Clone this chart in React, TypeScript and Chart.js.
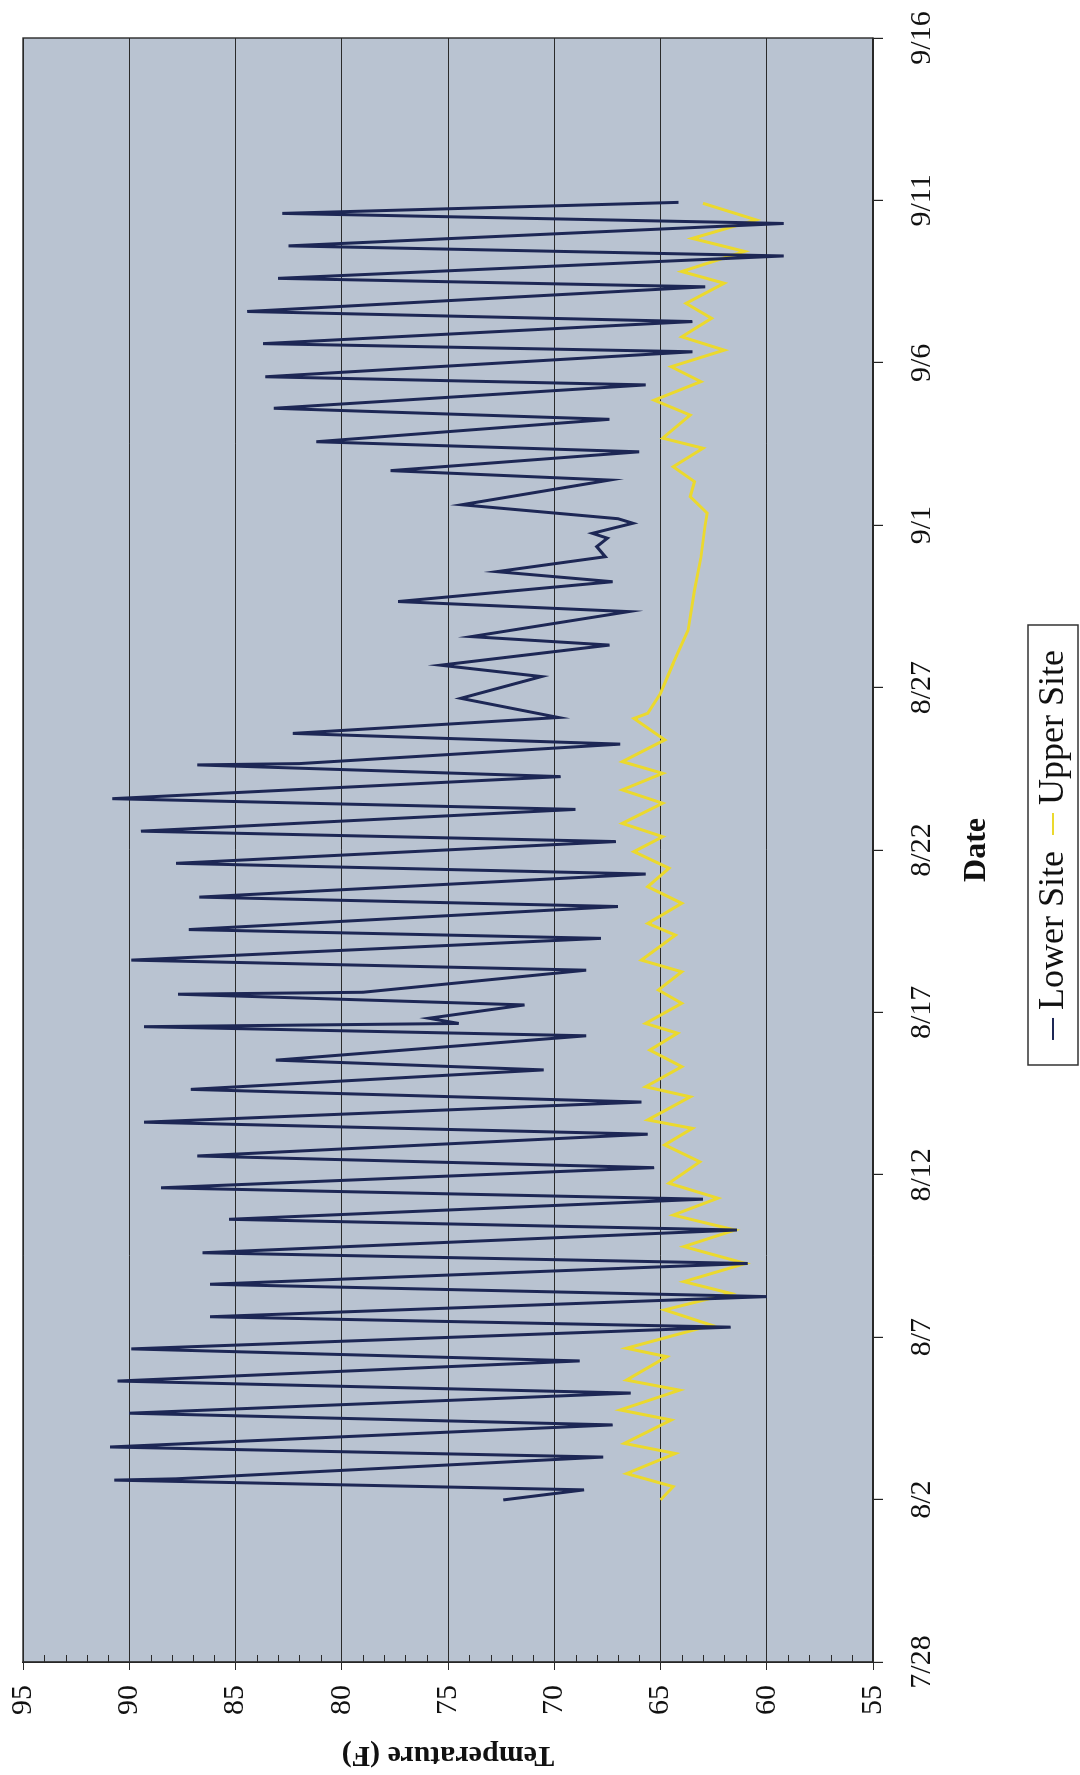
import React, { useEffect, useRef } from 'react';
import { Chart, registerables } from 'chart.js';

Chart.register(...registerables);

// Date axis: days after 7/28
const dateTickLabels = ['7/28', '8/2', '8/7', '8/12', '8/17', '8/22', '8/27', '9/1', '9/6', '9/11', '9/16'];
const dateStep = 5;
const tempMin = 55;
const tempMax = 95;
const tempStep = 5;

// Lower Site (days after 7/28, temperature F)
const lowerDays = [
  4.99, 5.30, 5.60, 5.64, 6.31, 6.62, 7.30, 7.66, 8.28, 8.65, 9.27, 9.64,
  10.31, 10.63, 11.25, 11.63, 12.27, 12.60, 13.30, 13.63, 14.25, 14.60, 15.22, 15.58,
  16.25, 16.62, 17.24, 17.63, 18.23, 18.53, 19.28, 19.56, 19.66, 19.82, 20.23, 20.56,
  20.62, 21.30, 21.61, 22.28, 22.55, 23.26, 23.55, 24.26, 24.59, 25.26, 25.58, 26.25,
  26.58, 27.26, 27.62, 27.66, 28.26, 28.59, 29.08, 29.67, 30.34, 30.69, 31.31, 31.57,
  32.34, 32.65, 33.26, 33.57, 34.03, 34.34, 34.60, 34.75, 35.06, 35.20, 35.63, 36.39,
  36.68, 37.26, 37.57, 38.26, 38.60, 39.32, 39.57, 40.34, 40.59, 41.27, 41.58, 42.34,
  42.60, 43.29, 43.60, 44.29, 44.60, 44.94,
];
const lowerTemps = [
  72.4, 68.6, 90.7, 87.8, 67.7, 90.9, 67.25, 90.0, 66.4, 90.55, 68.8, 89.9,
  61.7, 86.2, 60.0, 86.2, 60.9, 86.55, 61.4, 85.3, 63.0, 88.5, 65.3, 86.8,
  65.6, 89.3, 65.9, 87.1, 70.5, 83.1, 68.5, 89.3, 74.5, 75.9, 71.4, 87.7,
  79.0, 68.5, 89.9, 67.8, 87.2, 67.0, 86.7, 65.7, 87.8, 67.1, 89.45, 69.0,
  90.8, 69.7, 86.8, 82.0, 66.9, 82.3, 69.8, 74.4, 70.6, 75.35, 67.4, 73.9,
  66.5, 77.35, 67.25, 72.7, 67.6, 68.0, 67.5, 68.2, 66.3, 67.0, 74.35, 67.4,
  77.7, 66.0, 81.2, 67.4, 83.2, 65.7, 83.6, 63.5, 83.7, 63.5, 84.45, 62.9,
  83.0, 59.2, 82.5, 59.2, 82.8, 64.15,
];

// Upper Site (days after 7/28, temperature F)
const upperDays = [
  4.99, 5.40, 5.80, 6.42, 6.73, 7.45, 7.76, 8.37, 8.68, 9.40, 9.66, 10.37,
  10.84, 11.35, 11.71, 12.27, 12.79, 13.30, 13.76, 14.28, 14.74, 15.40, 15.92, 16.43,
  16.69, 17.40, 17.71, 18.33, 18.84, 19.36, 19.66, 20.28, 20.69, 21.25, 21.61, 22.38,
  22.74, 23.36, 23.87, 24.44, 24.95, 25.41, 25.82, 26.44, 26.85, 27.36, 27.72, 28.39,
  29.05, 29.21, 29.82, 30.75, 31.77, 33.0, 34.0, 35.0, 35.37, 35.88, 36.34, 36.80,
  37.37, 37.68, 38.39, 38.85, 39.42, 39.88, 40.39, 40.80, 41.37, 41.83, 42.45, 42.81,
  43.43, 43.83, 44.40, 44.91,
];
const upperTemps = [
  65.0, 64.4, 66.6, 64.3, 66.7, 64.5, 66.9, 64.1, 66.6, 64.7, 66.6, 62.6,
  64.8, 61.7, 63.9, 61.0, 63.9, 61.5, 64.4, 62.3, 64.6, 63.15, 64.8, 63.5,
  65.6, 63.6, 65.7, 64.0, 65.5, 64.2, 65.7, 64.0, 65.1, 64.0, 65.9, 64.3,
  65.6, 64.0, 65.6, 64.6, 66.25, 64.9, 66.8, 64.9, 66.8, 64.9, 66.8, 64.8,
  66.25, 65.6, 65.0, 64.4, 63.7, 63.4, 63.1, 62.9, 62.8, 63.6, 63.4, 64.4,
  63.0, 64.9, 63.6, 65.3, 63.1, 64.5, 62.0, 64.0, 62.6, 63.8, 62.0, 64.0,
  61.05, 63.5, 60.5, 63.0,
];

const FONT = '"Liberation Serif", "Times New Roman", serif';

const toPoints = (xs: number[], ys: number[]) => xs.map((x, i) => ({ x, y: ys[i] }));

const backgroundPlugin = {
  id: 'plotBackground',
  beforeDraw(chart: any) {
    const { ctx, chartArea } = chart;
    ctx.save();
    ctx.fillStyle = '#ffffff';
    ctx.fillRect(0, 0, chart.width, chart.height);
    ctx.fillStyle = '#b9c3d1';
    ctx.fillRect(chartArea.left, chartArea.top, chartArea.right - chartArea.left, chartArea.bottom - chartArea.top);
    ctx.restore();
  },
};

const framePlugin = {
  id: 'plotFrame',
  afterDatasetsDraw(chart: any) {
    const { ctx, chartArea } = chart;
    const yScale = chart.scales.y;
    ctx.save();
    ctx.strokeStyle = '#2a2a2a';
    ctx.lineWidth = 1.4;
    ctx.strokeRect(chartArea.left, chartArea.top, chartArea.right - chartArea.left, chartArea.bottom - chartArea.top);
    // minor ticks every 1 degree, inward
    ctx.lineWidth = 1.2;
    ctx.beginPath();
    for (let t = yScale.min + 1; t < yScale.max; t += 1) {
      if (t % tempStep === 0) continue;
      const py = Math.round(yScale.getPixelForValue(t)) + 0.5;
      ctx.moveTo(chartArea.left, py);
      ctx.lineTo(chartArea.left + 7, py);
    }
    ctx.stroke();
    ctx.restore();
  },
};

const legendPlugin = {
  id: 'boxedLegend',
  afterDraw(chart: any) {
    const { ctx, chartArea } = chart;
    const ds = chart.data.datasets;
    ctx.save();
    ctx.font = `36px ${FONT}`;
    const lineLen = 22;
    const gap = 8;
    const itemGap = 16;
    const widths = ds.map((d: any) => ctx.measureText(d.label).width);
    const inner = widths.reduce((a: number, w: number) => a + lineLen + gap + w, 0) + itemGap * (ds.length - 1);
    const boxW = Math.max(inner + 12, 440);
    const cx = (chartArea.left + chartArea.right) / 2 + 5;
    const top = chart.height - 52;
    const h = 50;
    const left = cx - boxW / 2;
    ctx.fillStyle = '#ffffff';
    ctx.fillRect(left, top, boxW, h);
    ctx.strokeStyle = '#333333';
    ctx.lineWidth = 1.5;
    ctx.strokeRect(left, top, boxW, h);
    let x = cx - inner / 2;
    const midY = top + h / 2;
    ds.forEach((d: any, i: number) => {
      ctx.strokeStyle = d.borderColor;
      ctx.lineWidth = 2;
      ctx.beginPath();
      ctx.moveTo(x, midY);
      ctx.lineTo(x + lineLen, midY);
      ctx.stroke();
      x += lineLen + gap;
      ctx.fillStyle = '#111111';
      ctx.textAlign = 'left';
      ctx.textBaseline = 'middle';
      ctx.fillText(d.label, x, midY + 1);
      x += widths[i] + itemGap;
    });
    ctx.restore();
  },
};

export default function App() {
  const canvasRef = useRef<HTMLCanvasElement | null>(null);

  useEffect(() => {
    document.body.style.margin = '0';
    const canvas = canvasRef.current;
    if (!canvas) return;
    const chart = new Chart(canvas, {
      type: 'line',
      data: {
        datasets: [
          {
            label: 'Lower Site',
            data: toPoints(lowerDays, lowerTemps),
            borderColor: '#1d2755',
            backgroundColor: '#1d2755',
            borderWidth: 3,
            pointRadius: 0,
            tension: 0,
          },
          {
            label: 'Upper Site',
            data: toPoints(upperDays, upperTemps),
            borderColor: '#ebd92e',
            backgroundColor: '#ebd92e',
            borderWidth: 3,
            pointRadius: 0,
            tension: 0,
          },
        ],
      },
      options: {
        responsive: false,
        animation: false,
        devicePixelRatio: 1,
        layout: { padding: { left: 0, right: 38, top: 23, bottom: 67 } },
        plugins: {
          legend: { display: false },
          tooltip: { enabled: false },
        },
        scales: {
          x: {
            type: 'linear',
            min: 0,
            max: (dateTickLabels.length - 1) * dateStep,
            afterFit(scale: any) {
              scale.height = 140;
              scale.paddingLeft = 0;
              scale.paddingRight = 0;
            },
            ticks: {
              stepSize: dateStep,
              autoSkip: false,
              maxRotation: 0,
              minRotation: 0,
              padding: 21,
              color: '#111',
              font: { family: FONT, size: 30 },
              callback: (v: any) => dateTickLabels[Math.round(Number(v) / dateStep)] ?? '',
            },
            grid: {
              display: true,
              drawOnChartArea: false,
              drawTicks: true,
              tickLength: 10,
              color: '#222',
              lineWidth: 1.2,
            },
            border: { display: true, color: '#222', width: 1.4 },
            title: {
              display: true,
              text: 'Date',
              color: '#111',
              font: { family: FONT, size: 32, weight: 'bold' },
              padding: { top: 0, bottom: 17 },
            },
          },
          y: {
            type: 'linear',
            min: tempMin,
            max: tempMax,
            afterFit(scale: any) {
              scale.width = 113;
              scale.paddingTop = 0;
              scale.paddingBottom = 0;
            },
            ticks: {
              stepSize: tempStep,
              padding: 15,
              color: '#111',
              font: { family: FONT, size: 30 },
            },
            grid: {
              display: true,
              drawOnChartArea: true,
              drawTicks: true,
              tickLength: 8,
              color: '#2a2a2a',
              lineWidth: 1,
            },
            border: { display: true, color: '#222', width: 1.4 },
            title: {
              display: true,
              text: 'Temperature (F)',
              color: '#111',
              font: { family: FONT, size: 30, weight: 'bold' },
              padding: { top: 2, bottom: 0 },
            },
          },
        },
      },
      plugins: [backgroundPlugin, framePlugin, legendPlugin],
    } as any);
    return () => chart.destroy();
  }, []);

  return (
    <div
      style={{
        position: 'absolute',
        left: 0,
        top: 0,
        width: 1080,
        height: 1775,
        overflow: 'hidden',
        background: '#ffffff',
      }}
    >
      <div
        style={{
          position: 'absolute',
          left: 0,
          top: 0,
          width: 1775,
          height: 1080,
          transformOrigin: '0 0',
          transform: 'translate(0px, 1775px) rotate(-90deg)',
        }}
      >
        <canvas ref={canvasRef} width={1775} height={1080} style={{ display: 'block', width: 1775, height: 1080 }} />
      </div>
    </div>
  );
}
